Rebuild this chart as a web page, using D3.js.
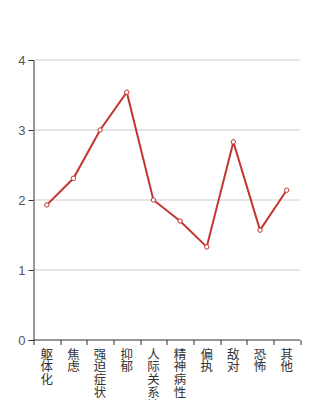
<!DOCTYPE html>
<html>
<head>
<meta charset="utf-8">
<script src="https://cdn.jsdelivr.net/npm/d3@7"></script>
<style>
  body { margin: 0; background: #fff; }
  svg { display: block; font-family: "Noto Sans CJK SC", "DejaVu Sans", sans-serif; }
</style>
</head>
<body>
<svg id="chart" width="334" height="400"></svg>
<script>
// data
const categories = ["躯体化", "焦虑", "强迫症状", "抑郁", "人际关系敏感", "精神病性", "偏执", "敌对", "恐怖", "其他"];
const scores = [1.93, 2.31, 3.0, 3.54, 2.0, 1.7, 1.33, 2.83, 1.57, 2.14];
const yTicks = [0, 1, 2, 3, 4];

const svg = d3.select("#chart");
const margin = { top: 60, right: 34, bottom: 60, left: 33.5 };
const width = 334 - margin.left - margin.right;
const height = 400 - margin.top - margin.bottom;

const g = svg.append("g").attr("transform", `translate(${margin.left}, ${margin.top})`);

const x = d3.scaleBand().domain(categories).range([0, width]);
const y = d3.scaleLinear().domain([0, 4]).range([height, 0]);

// grid lines
g.append("g")
    .selectAll("line")
    .data(yTicks.filter(d => d > 0))
    .enter()
    .append("line")
    .attr("x1", 0)
    .attr("x2", width)
    .attr("y1", d => y(d))
    .attr("y2", d => y(d))
    .attr("stroke", "#ccc")
    .attr("stroke-width", 1);

// y axis
const yAxis = g.append("g")
    .call(d3.axisLeft(y).tickValues(yTicks).tickFormat(d3.format("d")).tickSize(5).tickPadding(3));
yAxis.select(".domain").attr("stroke", "#333");
yAxis.selectAll(".tick line").attr("stroke", "#333");
yAxis.selectAll(".tick text")
    .attr("fill", "#555")
    .style("font-size", "13px")
    .style("font-family", "'Liberation Sans', Arial, sans-serif");

// x axis, ticks on band edges
const xAxis = g.append("g").attr("transform", `translate(0, ${height})`);
xAxis.append("line")
    .attr("x1", 0).attr("x2", width)
    .attr("stroke", "#333");
xAxis.selectAll(".edge")
    .data(d3.range(categories.length + 1))
    .enter()
    .append("line")
    .attr("class", "edge")
    .attr("x1", i => Math.round(i * x.bandwidth()) + 0.5)
    .attr("x2", i => Math.round(i * x.bandwidth()) + 0.5)
    .attr("y1", 0)
    .attr("y2", 5)
    .attr("stroke", "#333");

// vertical category labels, one char per text
const lab = xAxis.selectAll(".lab")
    .data(categories)
    .enter()
    .append("g")
    .attr("class", "lab");
lab.each(function(d) {
    const t = d3.select(this);
    const cx = x(d) + x.bandwidth() / 2;
    Array.from(d).forEach((ch, i) => {
        t.append("text")
            .attr("x", cx)
            .attr("y", 18.5 + i * 12.8)
            .attr("text-anchor", "middle")
            .attr("fill", "#333")
            .style("font-size", "12.5px")
            .text(ch);
    });
});

// line
const line = d3.line()
    .x((d, i) => x(categories[i]) + x.bandwidth() / 2)
    .y(d => y(d));

g.append("path")
    .datum(scores)
    .attr("fill", "none")
    .attr("stroke", "#c23531")
    .attr("stroke-width", 2)
    .attr("d", line);

g.selectAll(".pt")
    .data(scores)
    .enter()
    .append("circle")
    .attr("class", "pt")
    .attr("cx", (d, i) => x(categories[i]) + x.bandwidth() / 2)
    .attr("cy", d => y(d))
    .attr("r", 2.2)
    .attr("fill", "#fff")
    .attr("stroke", "#c23531")
    .attr("stroke-width", 1);
</script>
</body>
</html>
